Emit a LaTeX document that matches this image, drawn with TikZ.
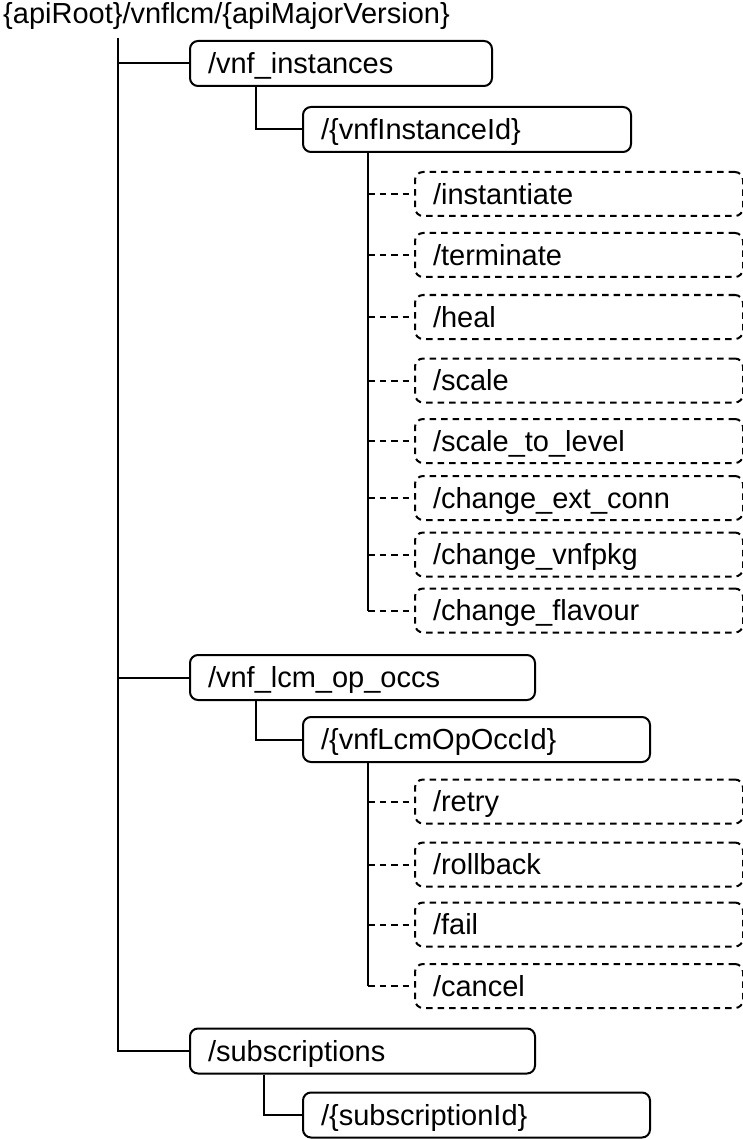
\documentclass[tikz,border=0pt]{standalone}
\usepackage{fontspec}
\setmainfont{Liberation Sans}
\begin{document}
\begin{tikzpicture}[x=1pt,y=-1pt,
  lbl/.style={font=\fontsize{29}{34}\selectfont},
  box/.style={lbl, draw, line width=2pt, rounded corners=8pt, align=left,
    inner xsep=18pt, inner ysep=0pt, text height=23.5pt, text depth=3pt,
    minimum height=45pt, anchor=west},
  solidbox/.style={box},
  dashbox/.style={box, dash pattern=on 6.5pt off 5pt, minimum height=44pt, text width=292pt},
  conn/.style={line width=2pt},
  dconn/.style={line width=2pt, dash pattern=on 6.5pt off 5pt}]
\useasboundingbox (0,0) rectangle (743,1139);

\node[lbl, anchor=base west, inner sep=0pt] (root) at (3,24) {\{apiRoot\}/vnflcm/\{apiMajorVersion\}};
\coordinate (trunk) at (118,38);

\node[solidbox, text width=266pt] (vi) at (189,63.5) {/vnf\_instances};
\node[solidbox, text width=292pt] (vii) at (302,129.5) {/\{vnfInstanceId\}};
\node[dashbox] (inst) at (414,194) {/instantiate};
\node[dashbox] (term) at (414,255) {/terminate};
\node[dashbox] (heal) at (414,317) {/heal};
\node[dashbox] (scale) at (414,380.5) {/scale};
\node[dashbox] (stl) at (414,441) {/scale\_to\_level};
\node[dashbox] (cec) at (414,498) {/change\_ext\_conn};
\node[dashbox] (cvp) at (414,554.5) {/change\_vnfpkg};
\node[dashbox] (cfl) at (414,610.5) {/change\_flavour};

\node[solidbox, text width=309pt] (loo) at (189,677.5) {/vnf\_lcm\_op\_occs};
\node[solidbox, text width=311pt] (looid) at (302,739.5) {/\{vnfLcmOpOccId\}};
\node[dashbox] (retry) at (414,801.5) {/retry};
\node[dashbox] (rollback) at (414,864.5) {/rollback};
\node[dashbox] (fail) at (414,924.5) {/fail};
\node[dashbox] (cancel) at (414,986) {/cancel};

\node[solidbox, text width=309pt] (subs) at (189,1051) {/subscriptions};
\node[solidbox, text width=311pt] (subid) at (302,1115) {/\{subscriptionId\}};

% trunk
\draw[conn] (trunk) |- (subs.west);
\draw[conn] (trunk |- vi.west) -- (vi.west);
\draw[conn] (trunk |- loo.west) -- (loo.west);

% second level
\draw[conn] ([xshift=67pt]vi.south west) |- (vii.west);
\draw[conn] ([xshift=67pt]loo.south west) |- (looid.west);
\draw[conn] ([xshift=75pt]subs.south west) |- (subid.west);

% vnfInstanceId children
\coordinate (va) at ([xshift=66pt]vii.south west);
\draw[conn] (va) -- (va |- cfl.west);
\foreach \n in {inst,term,heal,scale,stl,cec,cvp,cfl}
  \draw[dconn] (va |- \n.west) -- (\n.west);

% vnfLcmOpOccId children
\coordinate (vb) at ([xshift=66pt]looid.south west);
\draw[conn] (vb) -- (vb |- cancel.west);
\foreach \n in {retry,rollback,fail,cancel}
  \draw[dconn] (vb |- \n.west) -- (\n.west);
\end{tikzpicture}
\end{document}
